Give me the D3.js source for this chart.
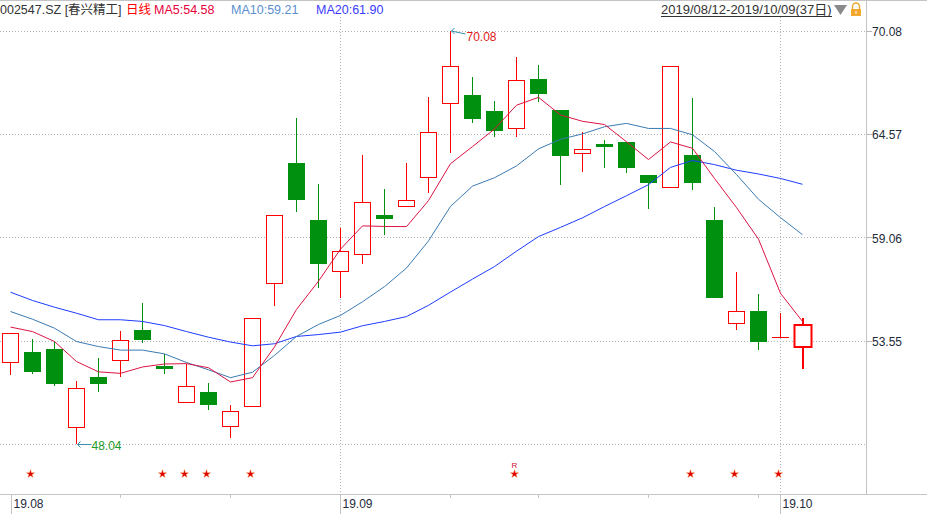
<!DOCTYPE html>
<html><head><meta charset="utf-8">
<script src="https://cdn.jsdelivr.net/npm/d3@7"></script>
<style>
body{margin:0;background:#fff;}
svg{display:block;font-family:"Liberation Sans",Arial,"Noto Sans CJK SC",sans-serif;}
</style>
</head><body>
<svg id="chart" width="927" height="514"></svg>
<script>
const dates = ["2019-08-12","2019-08-13","2019-08-14","2019-08-15","2019-08-16","2019-08-19","2019-08-20","2019-08-21","2019-08-22","2019-08-23","2019-08-26","2019-08-27","2019-08-28","2019-08-29","2019-08-30","2019-09-02","2019-09-03","2019-09-04","2019-09-05","2019-09-06","2019-09-09","2019-09-10","2019-09-11","2019-09-12","2019-09-16","2019-09-17","2019-09-18","2019-09-19","2019-09-20","2019-09-23","2019-09-24","2019-09-25","2019-09-26","2019-09-27","2019-09-30","2019-10-08","2019-10-09"];
const open  = [52.43,52.96,53.12,48.94,51.63,52.52,54.13,52.21,50.28,50.83,49.00,50.06,56.62,63.04,60.00,57.26,58.17,60.25,60.73,62.28,66.22,66.67,65.81,64.89,67.52,65.87,63.56,64.05,64.16,62.38,61.74,63.47,60.00,54.49,55.15,53.74,53.24];
const high  = [53.97,53.65,53.51,51.41,52.64,54.08,55.57,52.82,52.32,51.31,50.13,54.76,60.25,65.44,61.92,59.59,63.47,61.65,63.04,66.56,70.08,67.63,66.35,68.69,68.27,65.87,64.68,64.27,64.16,62.38,68.20,66.51,60.69,57.23,56.05,55.04,54.77];
const low   = [51.73,51.75,51.16,48.04,50.84,51.59,53.42,51.75,50.28,49.88,48.34,50.06,55.43,60.44,56.34,55.84,57.62,59.22,60.73,61.46,63.56,65.19,64.41,64.41,66.31,61.88,62.58,62.79,62.52,60.60,61.74,61.62,55.91,54.10,53.03,53.74,52.02];
const close = [53.97,51.91,51.27,51.02,51.27,53.58,53.62,52.07,51.13,50.15,49.80,54.76,60.25,61.14,57.72,58.33,60.94,60.12,61.07,64.68,68.20,65.46,64.82,67.45,66.79,63.48,63.77,63.96,62.84,62.04,68.20,62.04,55.91,55.13,53.56,53.74,54.45];
const ma5  = [54.28,54.04,53.51,52.44,51.89,51.81,52.15,52.31,52.33,52.11,51.35,51.58,53.22,55.22,56.73,58.44,59.68,59.65,59.64,61.03,63.00,63.91,64.85,66.12,66.54,65.60,65.26,65.09,64.17,63.22,64.16,63.82,62.21,60.66,58.97,56.08,54.58];
const ma10 = [55.11,54.70,54.22,53.51,53.24,53.05,53.05,52.85,52.39,52.00,51.58,51.87,52.77,53.78,54.42,54.90,55.63,56.44,57.43,58.88,60.72,61.80,62.25,62.88,63.79,64.30,64.59,64.97,65.15,64.88,64.88,64.54,63.65,62.42,61.10,60.12,59.21];
const ma20 = [56.14,55.70,55.34,55.02,54.67,54.67,54.58,54.36,54.04,53.74,53.48,53.28,53.39,53.78,53.88,54.01,54.35,54.58,54.84,55.44,56.15,56.84,57.51,58.33,59.11,59.60,60.11,60.71,61.29,61.88,62.80,63.17,62.95,62.65,62.45,62.21,61.90];
const yTickValues = [70.08, 64.57, 59.06, 53.55, 48.04];
const yTickLabels = ["70.08", "64.57", "59.06", "53.55", ""];
const weekTickDates = ["2019-08-19","2019-08-26","2019-09-09","2019-09-16","2019-09-23","2019-09-30"];
const monthTickDates = ["2019-08-12","2019-09-02","2019-10-08"];
const monthTickLabels = ["19.08","19.09","19.10"];
const monthGridDates = ["2019-09-02","2019-10-08"];
const starDates = ["2019-08-13","2019-08-21","2019-08-22","2019-08-23","2019-08-27","2019-09-12","2019-09-25","2019-09-27","2019-10-08"];
const rMarkDates = ["2019-09-12"];
const legendItems = [
  {text:"002547.SZ [春兴精工]", color:"#333333", x:0},
  {text:"日线", color:"#ff0000", x:126},
  {text:"MA5:54.58", color:"#e8003c", x:154},
  {text:"MA10:59.21", color:"#5b8fce", x:231},
  {text:"MA20:61.90", color:"#3a3aff", x:316}
];
const rangeText = "2019/08/12-2019/10/09(37日)";

const svg = d3.select("#chart");
const axisX = 866, axisY = 494;
const x = d3.scalePoint().domain(dates).range([10.5, 802.5]);
const y = d3.scaleLinear().domain([48.04, 70.08]).range([444, 31]);
const px = v => Math.round(v) + 0.5;

// top border
svg.append("line").attr("x1",0).attr("x2",927).attr("y1",0.5).attr("y2",0.5).attr("stroke","#c4c4c4");

// horizontal grid
svg.append("g").selectAll("line").data(yTickValues).join("line")
  .attr("x1",0).attr("x2",axisX).attr("y1",d=>px(y(d))).attr("y2",d=>px(y(d)))
  .attr("stroke","#b4b4b4").attr("stroke-dasharray","1,2");
// vertical month grid
svg.append("g").selectAll("line").data(monthGridDates).join("line")
  .attr("x1",d=>x(d)).attr("x2",d=>x(d)).attr("y1",17).attr("y2",axisY)
  .attr("stroke","#b4b4b4").attr("stroke-dasharray","1,2");

// axes lines
svg.append("line").attr("x1",px(axisX)).attr("x2",px(axisX)).attr("y1",0).attr("y2",axisY).attr("stroke","#c4c4c4");
svg.append("line").attr("x1",0).attr("x2",927).attr("y1",px(axisY)).attr("y2",px(axisY)).attr("stroke","#c4c4c4");

// right axis ticks/labels
const ry = svg.append("g");
ry.selectAll("line").data(yTickValues.slice(0,4)).join("line")
  .attr("x1",axisX).attr("x2",axisX+6).attr("y1",d=>px(y(d))).attr("y2",d=>px(y(d)))
  .attr("stroke","#b4b4b4");
ry.selectAll("text").data(yTickValues).join("text")
  .attr("x",872).attr("y",d=>y(d)+5).attr("font-size","12px").attr("fill","#1e2a3a")
  .text((d,i)=>yTickLabels[i]);

// bottom ticks
svg.append("g").selectAll("line").data(weekTickDates).join("line")
  .attr("x1",d=>x(d)).attr("x2",d=>x(d)).attr("y1",axisY).attr("y2",axisY+4).attr("stroke","#c4c4c4");
const mt = svg.append("g");
mt.selectAll("line").data(monthTickDates).join("line")
  .attr("x1",d=>x(d)+(d===monthTickDates[0]?1:0)).attr("x2",d=>x(d)+(d===monthTickDates[0]?1:0))
  .attr("y1",axisY).attr("y2",514).attr("stroke","#c4c4c4");
mt.selectAll("text").data(monthTickDates).join("text")
  .attr("x",d=>x(d)+(d===monthTickDates[0]?3:2)).attr("y",508).attr("font-size","12px").attr("fill","#1e2a3a")
  .text((d,i)=>monthTickLabels[i]);

// candles
const green = "#00900f", red = "#ff0000";
const cg = svg.append("g");
dates.forEach((d,i)=>{
  const cx = x(d);
  const up = close[i] >= open[i];
  const col = up ? red : green;
  const sw = i === dates.length-1 ? 2 : 1;
  const cxx = i === dates.length-1 ? cx+0.5 : cx;
  cg.append("line").attr("x1",cxx).attr("x2",cxx)
    .attr("y1",Math.round(y(high[i]))).attr("y2",Math.round(y(low[i])))
    .attr("stroke",col).attr("stroke-width",sw);
  const top = Math.round(y(Math.max(open[i],close[i])));
  const bot = Math.round(y(Math.min(open[i],close[i])));
  if (bot - top < 1) {
    cg.append("line").attr("x1",cx-8.5).attr("x2",cx+8.5).attr("y1",top+0.5).attr("y2",top+0.5)
      .attr("stroke",col).attr("stroke-width",1);
  } else if (up) {
    if (sw === 2) {
      cg.append("rect").attr("x",cx-8).attr("y",top+1).attr("width",17).attr("height",bot-top-1)
        .attr("fill","#fff").attr("stroke",col).attr("stroke-width",2);
    } else {
      cg.append("rect").attr("x",cx-8).attr("y",top+0.5).attr("width",16).attr("height",bot-top)
        .attr("fill","#fff").attr("stroke",col).attr("stroke-width",1);
    }
  } else {
    cg.append("rect").attr("x",cx-8.5).attr("y",top).attr("width",17).attr("height",Math.max(2,bot-top+1))
      .attr("fill",col);
  }
});

// MA lines
const line = d3.line().x((d,i)=>x(dates[i])).y(d=>y(d));
[[ma20,"#1e3cff"],[ma10,"#3b7ab2"],[ma5,"#dc1444"]].forEach(([arr,c])=>{
  svg.append("path").attr("d",line(arr)).attr("fill","none").attr("stroke",c).attr("stroke-width",1);
});

// max / min annotations
const iMax = d3.maxIndex(high), iMin = d3.minIndex(low);
const arrowCol = "#3a8fb0";
{
  const ax = x(dates[iMax]) + 1, ay = y(high[iMax]);
  svg.append("path").attr("d",`M${ax},${ay} L${ax+14},${ay+3}`).attr("stroke",arrowCol).attr("fill","none");
  svg.append("path").attr("d",`M${ax+3},${ay-3} L${ax},${ay} L${ax+3},${ay+3}`).attr("stroke",arrowCol).attr("fill","none");
  svg.append("text").attr("x",ax+15).attr("y",ay+10).attr("font-size","12px").attr("fill","#e01a1a").text(d3.format(".2f")(high[iMax]));
}
{
  const ax = x(dates[iMin]) + 1, ay = Math.round(y(low[iMin])) + 0.5;
  svg.append("path").attr("d",`M${ax},${ay} L${ax+14},${ay}`).attr("stroke",arrowCol).attr("fill","none");
  svg.append("path").attr("d",`M${ax+3},${ay-3} L${ax},${ay} L${ax+3},${ay+3}`).attr("stroke",arrowCol).attr("fill","none");
  svg.append("text").attr("x",ax+14).attr("y",ay+5).attr("font-size","12px").attr("fill","#1f9a2a").text(d3.format(".2f")(low[iMin]));
}

// stars
const star = d3.symbol().type(d3.symbolStar).size(22);
svg.append("g").selectAll("path").data(starDates).join("path")
  .attr("d",star).attr("transform",d=>`translate(${x(d)-2},474)`)
  .attr("fill","#e00000").attr("stroke","#f0a050").attr("stroke-width",0.4);
svg.append("g").selectAll("text").data(rMarkDates).join("text")
  .attr("x",d=>x(d)-2).attr("y",468).attr("text-anchor","middle").attr("font-size","8px").attr("fill","#d01030").text("R");

// header legend
svg.append("g").selectAll("text").data(legendItems).join("text")
  .attr("x",d=>d.x).attr("y",14).attr("font-size","12.5px").attr("fill",d=>d.color).text(d=>d.text);
svg.append("text").attr("x",661).attr("y",14).attr("font-size","13px").attr("fill","#333").text(rangeText);
svg.append("line").attr("x1",661).attr("x2",832).attr("y1",16.5).attr("y2",16.5).attr("stroke","#333");
svg.append("path").attr("d","M834,5 L847,5 L840.5,15 Z").attr("fill","#8a8a8a");
svg.append("path").attr("d","M852.5,9 L852.5,6.5 A3.5,3.5 0 0 1 859.5,6.5 L859.5,9").attr("fill","none").attr("stroke","#f0a830").attr("stroke-width",1.5);
svg.append("rect").attr("x",851).attr("y",9).attr("width",10).attr("height",7).attr("fill","#f3a72c");
svg.append("rect").attr("x",855.5).attr("y",11).attr("width",1).attr("height",3).attr("fill","#fff");
</script>
</body></html>
